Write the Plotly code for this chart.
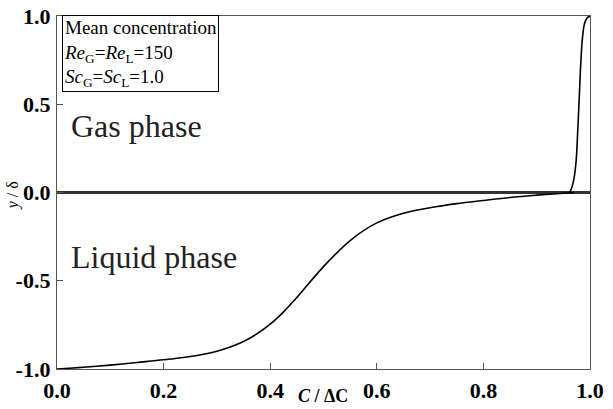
import plotly.graph_objects as go

# Liquid-phase mean concentration profile
liq_x = [0.0, 0.05, 0.1, 0.15, 0.2, 0.25, 0.275, 0.3, 0.325, 0.35, 0.375, 0.4, 0.425, 0.45,
         0.5, 0.55, 0.6, 0.65, 0.7, 0.75, 0.8, 0.85, 0.9, 0.95, 0.97]
liq_y = [-1.0, -0.99, -0.978, -0.963, -0.948, -0.929, -0.916, -0.899, -0.875, -0.844,
         -0.801, -0.746, -0.676, -0.595, -0.42, -0.272, -0.172, -0.117, -0.086, -0.063,
         -0.045, -0.028, -0.015, -0.004, 0.0]

# Gas-phase mean concentration profile
gas_x = [0.962, 0.966, 0.970, 0.974, 0.977, 0.980, 0.983, 0.986, 0.990, 0.995, 1.0]
gas_y = [0.0, 0.03, 0.08, 0.18, 0.35, 0.55, 0.75, 0.88, 0.96, 0.99, 1.0]

# Interface line
iface_x = [0.0, 1.0]
iface_y = [0.0, 0.0]

x_ticks = [0.0, 0.2, 0.4, 0.6, 0.8, 1.0]
y_ticks = [-1.0, -0.5, 0.0, 0.5, 1.0]

FONT = "Liberation Serif, Times New Roman, Times, serif"

fig = go.Figure()
fig.add_trace(go.Scatter(x=iface_x, y=iface_y, mode="lines",
                         line=dict(color="#333333", width=3), hoverinfo="skip"))
fig.add_trace(go.Scatter(x=liq_x, y=liq_y, mode="lines", line_shape="spline",
                         line=dict(color="black", width=1.6, smoothing=1.0)))
fig.add_trace(go.Scatter(x=gas_x, y=gas_y, mode="lines", line_shape="spline",
                         line=dict(color="black", width=1.6)))

axis_common = dict(showline=True, linecolor="#555555", linewidth=1.3, mirror=True,
                   ticks="inside", ticklen=6, tickcolor="#555555", showgrid=False,
                   zeroline=False, automargin=False,
                   tickfont=dict(family=FONT, size=22, color="black"))

fig.update_layout(
    width=613, height=409,
    margin=dict(l=57, r=23, t=16, b=40),
    paper_bgcolor="white", plot_bgcolor="white",
    showlegend=False,
    xaxis=dict(range=[0, 1], tickvals=x_ticks,
               ticktext=[f"<b>{v:.1f}</b>" for v in x_ticks],
               ticklabelstandoff=1, **axis_common),
    yaxis=dict(range=[-1, 1], tickvals=y_ticks,
               ticktext=[f"<b>{v:.1f}</b>" for v in y_ticks],
               ticklabelstandoff=1, **axis_common),
    font=dict(family=FONT, color="black"),
)

fig.add_annotation(xref="paper", yref="paper", x=0.01, y=1.003, xanchor="left", yanchor="top",
                   align="left", showarrow=False,
                   text="Mean concentration<br><i>Re</i><sub>G</sub>=<i>Re</i><sub>L</sub>=150<br>"
                        "<i>Sc</i><sub>G</sub>=<i>Sc</i><sub>L</sub>=1.0",
                   font=dict(family=FONT, size=19, color="black"),
                   bordercolor="black", borderwidth=1, borderpad=1, bgcolor="white")

fig.add_annotation(xref="paper", yref="paper", x=0.022, y=0.688, xanchor="left", yanchor="middle",
                   showarrow=False, text="Gas phase",
                   font=dict(family=FONT, size=32, color="#222222"))
fig.add_annotation(xref="paper", yref="paper", x=0.022, y=0.316, xanchor="left", yanchor="middle",
                   showarrow=False, text="Liquid phase",
                   font=dict(family=FONT, size=32, color="#222222"))

fig.add_annotation(xref="paper", yref="paper", x=0.499, y=-0.076, xanchor="center", yanchor="middle",
                   showarrow=False, text="<b><i>C</i> / ΔC</b>",
                   font=dict(family=FONT, size=18, color="black"))
fig.add_annotation(xref="paper", yref="paper", x=-0.082, y=0.49, xanchor="center", yanchor="middle",
                   showarrow=False, text="<i>y</i> / δ", textangle=-90,
                   font=dict(family=FONT, size=16, color="black"))

fig.write_html("out.html")
